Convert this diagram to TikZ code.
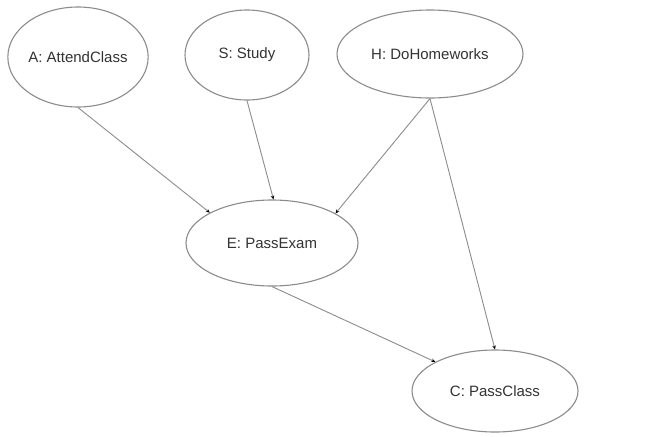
\documentclass[tikz,border=0pt]{standalone}
\usepackage{fontspec}
\setmainfont{Liberation Sans}
\usetikzlibrary{shapes.geometric,arrows.meta}
\definecolor{edgegray}{HTML}{8C8C8C}
\definecolor{txtgray}{HTML}{333333}
\begin{document}
\begin{tikzpicture}[x=1pt,y=-1pt,
  var/.style={ellipse,draw=edgegray,line width=1.1pt,inner sep=0pt,text=txtgray,font=\fontsize{15}{18}\selectfont},
  link/.style={draw=edgegray,line width=0.9pt,-{Stealth[length=4pt,width=3.5pt,black]}}]
\useasboundingbox[fill=white] (0,0) rectangle (665,437);
\node[var,minimum width=139pt,minimum height=100pt] (A) at (78,57) {A: AttendClass};
\node[var,minimum width=124pt,minimum height=90pt] (S) at (247,55) {S: Study};
\node[var,minimum width=186pt,minimum height=88pt] (H) at (430,54) {H: DoHomeworks};
\node[var,minimum width=172pt,minimum height=86pt] (E) at (272,243) {E: PassExam};
\node[var,minimum width=166pt,minimum height=82pt] (C) at (495,391) {C: PassClass};
\draw[link] (A.south) -- (E.154);
\draw[link] (S.south) -- (E.88);
\draw[link] (H.south) -- (E.25);
\draw[link] (H.south) -- (C.north);
\draw[link] (E.south) -- (C.154);
\end{tikzpicture}
\end{document}
